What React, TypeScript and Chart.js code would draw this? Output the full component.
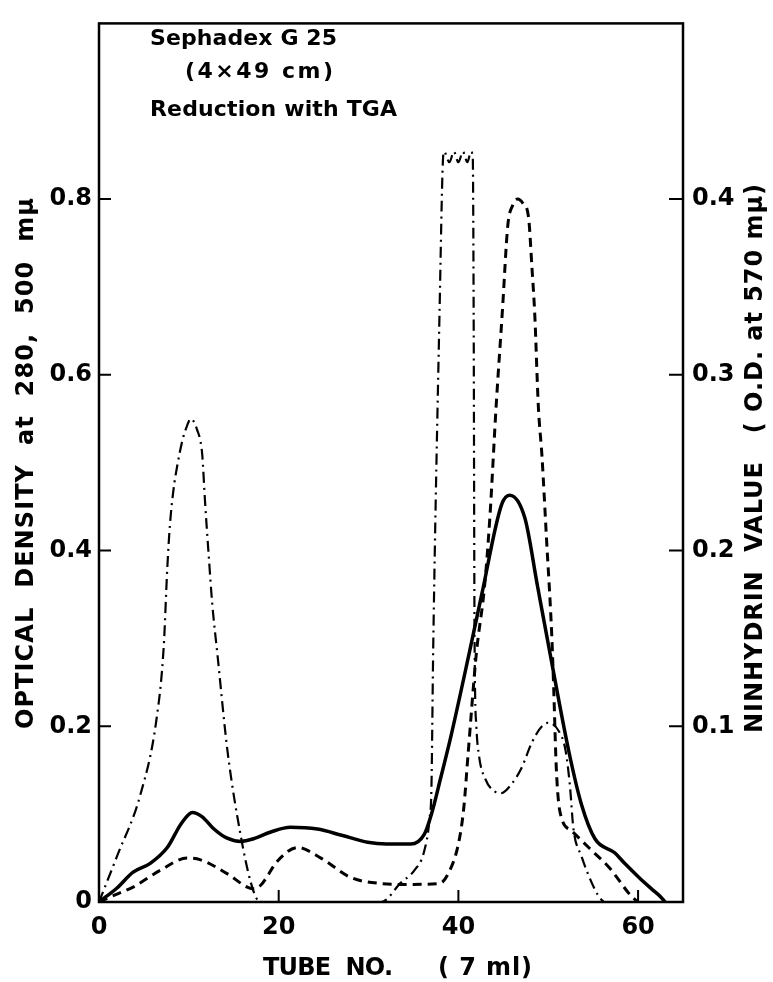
import React, { useEffect, useRef } from 'react';
import { Chart, registerables } from 'chart.js';

Chart.register(...registerables);

const FONT = '"DejaVu Sans", "Liberation Sans", sans-serif';

// Axis ticks
const xTicks = [0, 20, 40, 60];
const leftTicks = [0, 0.2, 0.4, 0.6, 0.8];
const rightTicks = [0.1, 0.2, 0.3, 0.4];

// Solid line: optical density at 280 mμ (left axis)
const tube280 = [0, 2, 3.8, 5.7, 7.6, 9.2, 10.4, 11.5, 12.7, 14.2, 15.8, 17.2, 19.2, 21.3, 24.3, 27, 29.9, 32, 34.7, 36.2, 37.0, 38.0, 39.2, 41.2, 42.6, 44.8, 45.7, 47.4, 48.8, 50.2, 52.3, 53.7, 55.2, 57.4, 58.5, 60.1, 61.5, 62.5, 63];
const od280 = [0, 0.016, 0.034, 0.044, 0.062, 0.09, 0.102, 0.097, 0.084, 0.073, 0.069, 0.072, 0.08, 0.085, 0.083, 0.076, 0.068, 0.066, 0.066, 0.077, 0.1, 0.14, 0.19, 0.283, 0.35, 0.452, 0.463, 0.437, 0.36, 0.283, 0.171, 0.111, 0.072, 0.056, 0.044, 0.028, 0.015, 0.006, 0];

// Dashed line: optical density at 500 mμ (left axis)
const tube500 = [0, 2, 3.8, 6.8, 9.8, 11.3, 14.3, 16.5, 17.3, 18.0, 19.9, 22.1, 24.7, 28.0, 31.4, 34, 37.9, 38.9, 40.0, 40.6, 41.1, 42.0, 42.9, 43.5, 44.2, 44.9, 45.5, 46.0, 46.6, 47.2, 47.8, 48.2, 48.5, 48.9, 49.3, 49.8, 50.4, 50.6, 50.9, 51.3, 52.6, 54.5, 56.8, 59.3, 60];
const od500 = [0, 0.009, 0.017, 0.036, 0.05, 0.048, 0.032, 0.017, 0.015, 0.019, 0.047, 0.062, 0.05, 0.028, 0.021, 0.02, 0.021, 0.033, 0.066, 0.107, 0.171, 0.283, 0.358, 0.437, 0.564, 0.673, 0.77, 0.792, 0.8, 0.795, 0.78, 0.72, 0.669, 0.564, 0.508, 0.415, 0.302, 0.246, 0.152, 0.103, 0.081, 0.062, 0.039, 0.006, 0];

// Dash-dot line: ninhydrin value, O.D. at 570 mμ (right axis)
const tubeNin = [0, 2.0, 4.6, 6.4, 7.2, 7.6, 7.9, 8.3, 8.7, 9.3, 9.8, 10.2, 10.6, 10.9, 11.3, 11.5, 11.8, 12.2, 12.6, 13.2, 14.3, 15.8, 16.9, 17.7, 18.5, 31.4, 33.6, 35.1, 36.2, 36.8, 37.0, 37.2, 37.9, 38.3, 38.4, 39.0, 39.5, 40.0, 40.5, 41.0, 41.4, 41.6, 41.7, 41.8, 42.0, 42.3, 43.0, 44.0, 44.8, 45.9, 47.0, 48.2, 49.3, 50.0, 51.2, 51.9, 52.4, 52.8, 53.7, 55.2, 55.8, 56.2];
const ninhydrin = [0, 0.026, 0.061, 0.104, 0.145, 0.19, 0.215, 0.235, 0.248, 0.263, 0.271, 0.275, 0.273, 0.269, 0.262, 0.254, 0.228, 0.198, 0.17, 0.14, 0.086, 0.037, 0.011, 0.001, 0, 0, 0.011, 0.018, 0.029, 0.048, 0.065, 0.145, 0.335, 0.424, 0.427, 0.421, 0.427, 0.421, 0.427, 0.421, 0.427, 0.424, 0.335, 0.15, 0.1, 0.083, 0.07, 0.063, 0.062, 0.067, 0.076, 0.091, 0.1, 0.102, 0.097, 0.087, 0.067, 0.042, 0.026, 0.007, 0.002, 0];

const annotations = ['Sephadex G 25', '(4×49 cm)', 'Reduction with TGA'];
const xTitle = ['TUBE  NO.', '( 7 ml)'];
const leftTitle = 'OPTICAL  DENSITY  at  280,  500  mμ';
const rightTitle = 'NINHYDRIN  VALUE   ( O.D. at 570 mμ)';

const pts = (xs: number[], ys: number[]) => xs.map((x, i) => ({ x, y: ys[i] }));

function drawFitted(ctx: CanvasRenderingContext2D, text: string, x: number, y: number, target: number) {
  (ctx as any).letterSpacing = '0px';
  const w = ctx.measureText(text).width;
  const n = Array.from(text).length;
  let ls = (target - w) / Math.max(1, n - 1);
  if (ls < -1.5) ls = -1.5;
  (ctx as any).letterSpacing = `${ls}px`;
  ctx.fillText(text, x, y);
  (ctx as any).letterSpacing = '0px';
}

const decor = {
  id: 'decor',
  afterDraw(chart: any) {
    const { ctx, chartArea: a, scales } = chart;
    ctx.save();
    ctx.strokeStyle = '#000';
    ctx.fillStyle = '#000';
    ctx.lineWidth = 2.5;
    ctx.strokeRect(a.left, a.top, a.right - a.left, a.bottom - a.top);

    ctx.lineWidth = 2;
    ctx.beginPath();
    xTicks.forEach((v) => {
      if (v === 0) return;
      const px = scales.x.getPixelForValue(v);
      ctx.moveTo(px, a.bottom);
      ctx.lineTo(px, a.bottom - 12);
    });
    leftTicks.forEach((v) => {
      if (v === 0) return;
      const py = scales.y.getPixelForValue(v);
      ctx.moveTo(a.left, py);
      ctx.lineTo(a.left + 12, py);
    });
    rightTicks.forEach((v) => {
      const py = scales.y2.getPixelForValue(v);
      ctx.moveTo(a.right, py);
      ctx.lineTo(a.right - 14, py);
    });
    ctx.stroke();

    // annotations
    ctx.font = `bold 22px ${FONT}`;
    ctx.textAlign = 'left';
    ctx.textBaseline = 'alphabetic';
    drawFitted(ctx, annotations[0], 150, 45, 187);
    drawFitted(ctx, annotations[1], 185, 78, 148);
    drawFitted(ctx, annotations[2], 150, 116, 247);

    // x title
    ctx.font = `bold 24px ${FONT}`;
    drawFitted(ctx, xTitle[0], 263, 975, 130);
    drawFitted(ctx, xTitle[1], 438, 975, 94);

    // left title
    ctx.save();
    ctx.translate(33, 463);
    ctx.rotate(-Math.PI / 2);
    ctx.textAlign = 'center';
    drawFitted(ctx, leftTitle, 0, 0, 531);
    ctx.restore();

    // right title
    ctx.save();
    ctx.translate(762, 458);
    ctx.rotate(-Math.PI / 2);
    ctx.textAlign = 'center';
    drawFitted(ctx, rightTitle, 0, 0, 549);
    ctx.restore();

    ctx.restore();
  },
};

export default function App() {
  const ref = useRef<HTMLCanvasElement | null>(null);

  useEffect(() => {
    if (!ref.current) return;
    const tickFont = { family: FONT, size: 24, weight: 'bold' };
    const chart = new Chart(ref.current, {
      type: 'line',
      data: {
        datasets: [
          {
            label: 'OD 280',
            data: pts(tube280, od280),
            yAxisID: 'y',
            borderColor: '#000',
            borderWidth: 3.5,
            pointRadius: 0,
            cubicInterpolationMode: 'monotone',
          },
          {
            label: 'OD 500',
            data: pts(tube500, od500),
            yAxisID: 'y',
            borderColor: '#000',
            borderWidth: 3,
            borderDash: [9, 6],
            pointRadius: 0,
            cubicInterpolationMode: 'monotone',
          },
          {
            label: 'Ninhydrin',
            data: pts(tubeNin, ninhydrin),
            yAxisID: 'y2',
            borderColor: '#000',
            borderWidth: 2.2,
            borderDash: [11, 5, 2, 5],
            pointRadius: 0,
            cubicInterpolationMode: 'monotone',
          },
        ],
      },
      options: {
        animation: false,
        responsive: false,
        devicePixelRatio: 1,
        layout: { padding: { top: 10, left: 0, right: 0, bottom: 0 } },
        plugins: { legend: { display: false }, tooltip: { enabled: false } },
        scales: {
          x: {
            type: 'linear',
            min: 0,
            max: 65,
            grid: { display: false, drawTicks: false },
            border: { display: false },
            afterBuildTicks: (s: any) => { s.ticks = xTicks.map((v) => ({ value: v })); },
            afterFit: (s: any) => { s.height = 80; },
            ticks: { font: tickFont, color: '#000', padding: 11, maxRotation: 0, callback: (v: any) => String(v) },
          },
          y: {
            type: 'linear',
            position: 'left',
            min: 0,
            max: 1.0,
            grid: { display: false, drawTicks: false },
            border: { display: false },
            afterBuildTicks: (s: any) => { s.ticks = leftTicks.map((v) => ({ value: v })); },
            afterFit: (s: any) => { s.width = 99; },
            ticks: { font: tickFont, color: '#000', padding: 7, callback: (v: any) => (v === 0 ? '0' : Number(v).toFixed(1)) },
          },
          y2: {
            type: 'linear',
            position: 'right',
            min: 0,
            max: 0.5,
            grid: { display: false, drawTicks: false },
            border: { display: false },
            afterBuildTicks: (s: any) => { s.ticks = rightTicks.map((v) => ({ value: v })); },
            afterFit: (s: any) => { s.width = 90; },
            ticks: { font: tickFont, color: '#000', padding: 9, callback: (v: any) => Number(v).toFixed(1) },
          },
        },
      } as any,
      plugins: [decor],
    });
    return () => chart.destroy();
  }, []);

  return (
    <div style={{ position: 'absolute', left: 0, top: 0, width: 773, height: 982, background: '#fff' }}>
      <canvas ref={ref} width={773} height={982} style={{ display: 'block' }} />
    </div>
  );
}
